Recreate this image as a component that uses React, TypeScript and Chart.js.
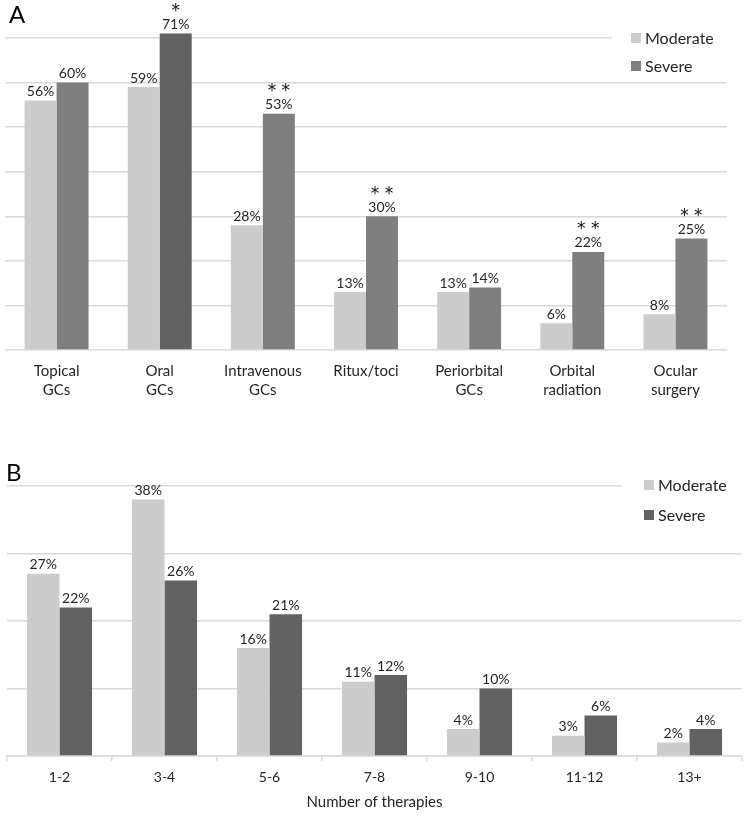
import React, { useEffect, useRef } from 'react';
import { Chart, registerables } from 'chart.js';

Chart.register(...registerables);

const FONT = 'Lato, "Open Sans", sans-serif';
const STAR_FONT = '"DejaVu Sans", sans-serif';

// Panel A data
const treatmentLabels: string[][] = [
  ['Topical', 'GCs'],
  ['Oral', 'GCs'],
  ['Intravenous', 'GCs'],
  ['Ritux/toci'],
  ['Periorbital', 'GCs'],
  ['Orbital', 'radiation'],
  ['Ocular', 'surgery'],
];
const moderateA = [56, 59, 28, 13, 13, 6, 8];
const severeA = [60, 71, 53, 30, 14, 22, 25];
const significanceA = ['', '*', '**', '**', '', '**', '**'];

// Panel B data
const therapyLabels = ['1-2', '3-4', '5-6', '7-8', '9-10', '11-12', '13+'];
const moderateB = [27, 38, 16, 11, 4, 3, 2];
const severeB = [22, 26, 21, 12, 10, 6, 4];

const seriesNames = ['Moderate', 'Severe'];
const xTitleB = 'Number of therapies';

const LIGHT = '#cccccc';
const MID = '#7f7f7f';
const DARK = '#626262';
const GRID = '#d9d9d9';
const TEXT = '#262626';

const valueLabelPlugin = {
  id: 'valueLabels',
  afterDatasetsDraw(chart: any, _args: any, opts: any) {
    const ctx = chart.ctx;
    ctx.save();
    ctx.textAlign = 'center';
    ctx.fillStyle = TEXT;
    chart.data.datasets.forEach((ds: any, di: number) => {
      const meta = chart.getDatasetMeta(di);
      meta.data.forEach((bar: any, i: number) => {
        const v = ds.data[i];
        ctx.font = `14px ${FONT}`;
        ctx.textBaseline = 'middle';
        ctx.fillText(v + '%', bar.x, bar.y - 9);
        const sigs = opts.sig && opts.sig[di];
        const s = sigs ? sigs[i] : '';
        if (s) {
          const txt = s.split('').join(' ');
          ctx.font = `17px ${STAR_FONT}`;
          ctx.fillStyle = '#111111';
          ctx.textBaseline = 'alphabetic';
          const m = ctx.measureText(txt);
          const target = bar.y - 26;
          const base = target + (m.actualBoundingBoxAscent - m.actualBoundingBoxDescent) / 2;
          ctx.fillText(txt, bar.x, base);
          ctx.fillStyle = TEXT;
        }
      });
    });
    ctx.restore();
  },
};

const overlayPlugin = {
  id: 'overlay',
  afterDraw(chart: any, _args: any, opts: any) {
    const { ctx, chartArea } = chart;
    ctx.save();
    ctx.fillStyle = '#ffffff';
    ctx.fillRect(opts.boxX, chartArea.top - 3, chartArea.right - opts.boxX + 4, 6);
    // legend
    ctx.font = `16px ${FONT}`;
    ctx.textBaseline = 'middle';
    ctx.textAlign = 'left';
    opts.items.forEach((it: any, k: number) => {
      const y = opts.legendY + k * opts.legendGap;
      ctx.fillStyle = it.color;
      ctx.fillRect(opts.legendX, y - 5, 10, 10);
      ctx.fillStyle = TEXT;
      ctx.fillText(it.text, opts.legendX + 14, y + 1);
    });
    // panel letter
    ctx.font = `24px ${FONT}`;
    ctx.textBaseline = 'alphabetic';
    ctx.fillStyle = '#000000';
    ctx.fillText(opts.letter, opts.letterX, opts.letterY);
    ctx.restore();
  },
};

function makeA(canvas: HTMLCanvasElement) {
  const severeColors = severeA.map((_, i) => (i === 1 ? DARK : MID));
  return new Chart(canvas, {
    type: 'bar',
    data: {
      labels: treatmentLabels as any,
      datasets: [
        { label: seriesNames[0], data: moderateA, backgroundColor: LIGHT, clip: false as any },
        { label: seriesNames[1], data: severeA, backgroundColor: severeColors, clip: false as any },
      ],
    },
    options: {
      responsive: false,
      animation: false,
      layout: { padding: { top: 38, left: 5, right: 23, bottom: 0 } },
      datasets: { bar: { categoryPercentage: 0.62, barPercentage: 1.0 } },
      scales: {
        x: {
          grid: { display: false, drawTicks: false },
          border: { display: false },
          ticks: {
            color: TEXT,
            font: { family: FONT, size: 15, lineHeight: 1.27 },
            padding: 12,
            maxRotation: 0,
            autoSkip: false,
          },
          afterFit: (s: any) => { s.height = 50; },
        },
        y: {
          min: 0,
          max: 70,
          ticks: { display: false, stepSize: 10 },
          grid: { color: GRID, drawTicks: false, lineWidth: 1.5 },
          border: { display: false },
          afterFit: (s: any) => { s.width = 0; },
        },
      },
      plugins: {
        legend: { display: false },
        tooltip: { enabled: false },
        valueLabels: { sig: [null, significanceA] },
        overlay: {
          boxX: 612,
          legendX: 631,
          legendY: 38,
          legendGap: 28,
          items: [
            { text: seriesNames[0], color: LIGHT },
            { text: seriesNames[1], color: MID },
          ],
          letter: 'A',
          letterX: 9,
          letterY: 23,
        },
      } as any,
    },
    plugins: [valueLabelPlugin, overlayPlugin],
  });
}

function makeB(canvas: HTMLCanvasElement) {
  return new Chart(canvas, {
    type: 'bar',
    data: {
      labels: therapyLabels,
      datasets: [
        { label: seriesNames[0], data: moderateB, backgroundColor: LIGHT },
        { label: seriesNames[1], data: severeB, backgroundColor: DARK },
      ],
    },
    options: {
      responsive: false,
      animation: false,
      layout: { padding: { top: 86, left: 7, right: 8, bottom: 0 } },
      datasets: { bar: { categoryPercentage: 0.62, barPercentage: 1.0 } },
      scales: {
        x: {
          grid: { display: true, drawOnChartArea: false, drawTicks: true, tickLength: 5, color: GRID, lineWidth: 1.5 },
          border: { display: true, color: GRID, width: 1.5 },
          ticks: {
            color: TEXT,
            font: { family: FONT, size: 14 },
            padding: 8,
            maxRotation: 0,
            autoSkip: false,
          },
          title: {
            display: true,
            text: xTitleB,
            color: TEXT,
            font: { family: FONT, size: 15 },
            padding: { top: 0, bottom: 7 },
          },
          afterFit: (s: any) => { s.height = 62; },
        },
        y: {
          min: 0,
          max: 40,
          ticks: { display: false, stepSize: 10 },
          grid: { color: GRID, drawTicks: false, lineWidth: 1.5 },
          border: { display: false },
          afterFit: (s: any) => { s.width = 0; },
        },
      },
      plugins: {
        legend: { display: false },
        tooltip: { enabled: false },
        valueLabels: { sig: [null, null] },
        overlay: {
          boxX: 622,
          legendX: 644,
          legendY: 85,
          legendGap: 30,
          items: [
            { text: seriesNames[0], color: LIGHT },
            { text: seriesNames[1], color: DARK },
          ],
          letter: 'B',
          letterX: 6,
          letterY: 81,
        },
      } as any,
    },
    plugins: [valueLabelPlugin, overlayPlugin],
  });
}

export default function App() {
  const refA = useRef<HTMLCanvasElement>(null);
  const refB = useRef<HTMLCanvasElement>(null);

  useEffect(() => {
    document.body.style.margin = '0';
    const a = makeA(refA.current!);
    const b = makeB(refB.current!);
    return () => {
      a.destroy();
      b.destroy();
    };
  }, []);

  return (
    <div style={{ position: 'relative', width: 750, height: 818, background: '#ffffff' }}>
      <canvas ref={refA} width={750} height={400} style={{ position: 'absolute', left: 0, top: 0, width: 750, height: 400 }} />
      <canvas ref={refB} width={750} height={418} style={{ position: 'absolute', left: 0, top: 400, width: 750, height: 418 }} />
    </div>
  );
}
